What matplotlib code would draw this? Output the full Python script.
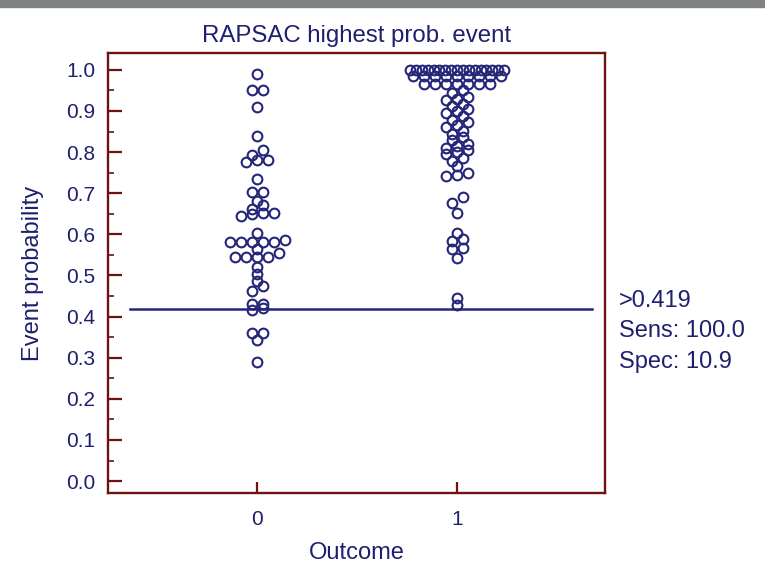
import numpy as np
import matplotlib.pyplot as plt
from matplotlib.patches import Rectangle

plt.rcParams['font.family'] = ['Liberation Sans', 'DejaVu Sans']

# event probabilities per outcome group
outcome_0 = [0.99, 0.95, 0.95, 0.909, 0.839, 0.804, 0.792, 0.781, 0.781, 0.776,
             0.735, 0.702, 0.702, 0.68, 0.672, 0.661, 0.652, 0.651, 0.65, 0.645,
             0.603, 0.586, 0.581, 0.581, 0.581, 0.581, 0.581, 0.564, 0.555, 0.545,
             0.545, 0.545, 0.545, 0.521, 0.504, 0.487, 0.474, 0.463, 0.43, 0.43,
             0.42, 0.415, 0.36, 0.359, 0.343, 0.29]
outcome_1 = [1.0] * 17 + [0.984] * 9 + [0.966] * 7 + \
    [0.95, 0.943, 0.935, 0.93, 0.927, 0.918, 0.912, 0.905, 0.90, 0.895,
     0.889, 0.878, 0.872, 0.866, 0.862, 0.852, 0.845, 0.836, 0.83, 0.82,
     0.815, 0.81, 0.805, 0.80, 0.796, 0.785, 0.778, 0.765, 0.748, 0.745,
     0.743, 0.69, 0.677, 0.651, 0.603, 0.588, 0.585, 0.566, 0.564, 0.542,
     0.444, 0.428]
groups = [0, 1]
cutoff = 0.419
sens = 100.0
spec = 10.9

navy = '#1f1f6e'
dot_col = '#25257a'
maroon = '#6e1212'

ylo, yhi = -0.029, 1.041
xlo, xhi = -0.745, 1.74

W, H = 765., 563.
fig = plt.figure(figsize=(W / 100, H / 100), dpi=100)
fig.patches.append(Rectangle((0, 1 - 7 / H), 1, 7 / H, transform=fig.transFigure,
                             color='#7f8383', zorder=0))
ax = fig.add_axes([108 / W, 70 / H, 497 / W, 440 / H])
ax.set_xlim(xlo, xhi)
ax.set_ylim(ylo, yhi)

xpx = 497. / (xhi - xlo)   # pixels per x unit


def dot_offsets(values, bin_w=1 / 60., dot=11., max_span=94.):
    # values sharing a bin sit side by side, lowest on the left,
    # squeezed together when a row gets too wide
    values = np.asarray(values)
    bins = np.round(values / bin_w).astype(int)
    offs = np.zeros(len(values))
    for b in np.unique(bins):
        idx = np.where(bins == b)[0]
        idx = idx[np.argsort(values[idx], kind='stable')]
        n = len(idx)
        if n == 1:
            continue
        s = min(dot, max_span / (n - 1))
        offs[idx] = (np.arange(n) - (n - 1) / 2.) * s
    return offs / xpx


for g, vals in zip(groups, [outcome_0, outcome_1]):
    xs = g + dot_offsets(vals)
    ax.plot(xs, vals, 'o', ms=7.0, mfc='none', mec=dot_col, mew=1.5, zorder=3)

ax.plot([-0.635, 1.675], [cutoff, cutoff], color=dot_col, lw=1.8, zorder=2)

ax.set_yticks(np.arange(0, 1.01, 0.1))
ax.set_yticks(np.arange(0.05, 1.0, 0.1), minor=True)
ax.set_yticklabels(['%.1f' % v for v in np.arange(0, 1.01, 0.1)])
ax.set_xticks(groups)
ax.set_xticklabels([str(g) for g in groups])
ax.tick_params(axis='y', which='major', direction='in', length=10, width=1.6,
               color=maroon, labelcolor=navy, labelsize=15, pad=9)
ax.tick_params(axis='y', which='minor', direction='in', length=4, width=1.2, color=maroon)
ax.tick_params(axis='x', which='major', direction='in', length=8, width=1.6,
               color=maroon, labelcolor=navy, labelsize=15, pad=12)
for sp in ax.spines.values():
    sp.set_color(maroon)
    sp.set_linewidth(1.7)

ax.set_title('RAPSAC highest prob. event', color=navy, fontsize=17.3, pad=8)
ax.set_xlabel('Outcome', color=navy, fontsize=17)
ax.set_ylabel('Event probability', color=navy, fontsize=17)
ax.xaxis.set_label_coords(0.5, (493 - 542) / 440.)
ax.yaxis.set_label_coords((44 - 108) / 497., 0.5)

for line, ypos in zip(['>%.3f' % cutoff, 'Sens: %.1f' % sens, 'Spec: %.1f' % spec],
                      [301, 331, 362]):
    fig.text(619 / W, 1 - ypos / H, line, color=navy, fontsize=17,
             ha='left', va='center')

fig.savefig('out.png', dpi=100)
